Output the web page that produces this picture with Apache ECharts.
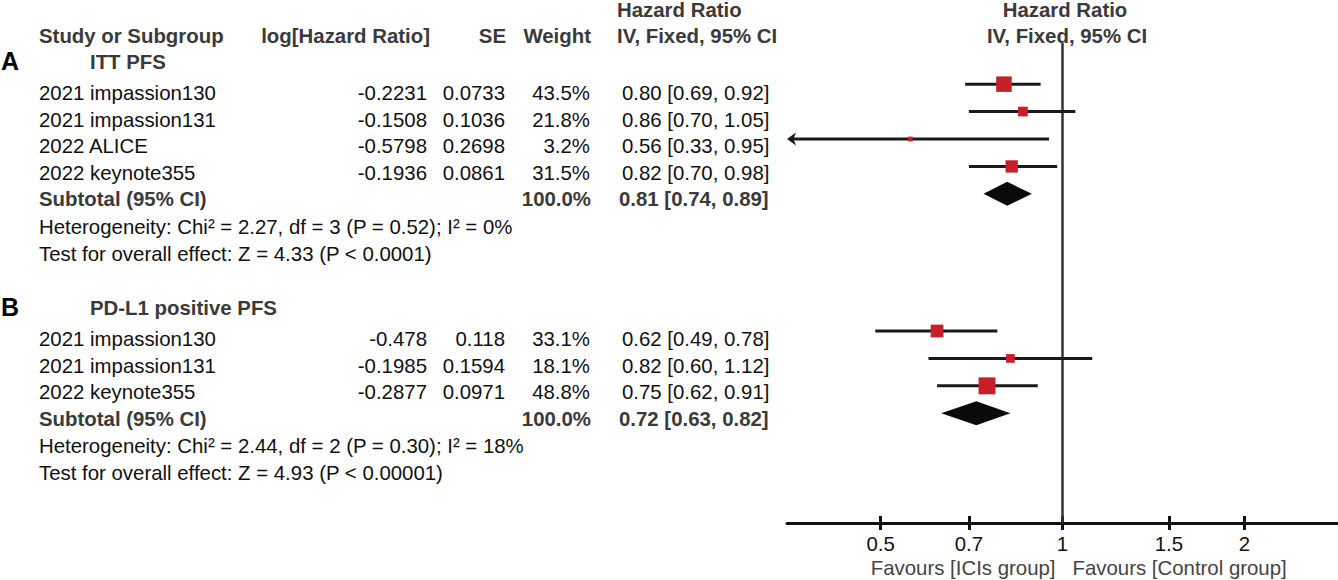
<!DOCTYPE html>
<html>
<head>
<meta charset="utf-8">
<script src="https://cdn.jsdelivr.net/npm/echarts@6/dist/echarts.min.js"></script>
<style>html,body{margin:0;padding:0;background:#fff}#c{width:1338px;height:580px}</style>
</head>
<body>
<div id="c"></div>
<script>
// ---- data ----
const studiesA = ['2021 impassion130', '2021 impassion131', '2022 ALICE', '2022 keynote355'];
const logHRA = [-0.2231, -0.1508, -0.5798, -0.1936];
const seA = [0.0733, 0.1036, 0.2698, 0.0861];
const weightA = [43.5, 21.8, 3.2, 31.5];
const hrA = [0.80, 0.86, 0.56, 0.82];
const lowA = [0.69, 0.70, 0.33, 0.70];
const highA = [0.92, 1.05, 0.95, 0.98];
const subtotalA = [0.81, 0.74, 0.89];
const subtotalWeightA = 100.0;
const heteroA = 'Heterogeneity: Chi² = 2.27, df = 3 (P = 0.52); I² = 0%';
const overallA = 'Test for overall effect: Z = 4.33 (P < 0.0001)';
const titleA = 'ITT PFS';

const studiesB = ['2021 impassion130', '2021 impassion131', '2022 keynote355'];
const logHRB = [-0.478, -0.1985, -0.2877];
const seB = [0.118, 0.1594, 0.0971];
const weightB = [33.1, 18.1, 48.8];
const hrB = [0.62, 0.82, 0.75];
const lowB = [0.49, 0.60, 0.62];
const highB = [0.78, 1.12, 0.91];
const subtotalB = [0.72, 0.63, 0.82];
const subtotalWeightB = 100.0;
const heteroB = 'Heterogeneity: Chi² = 2.44, df = 2 (P = 0.30); I² = 18%';
const overallB = 'Test for overall effect: Z = 4.93 (P < 0.00001)';
const titleB = 'PD-L1 positive PFS';

const tickValues = [0.5, 0.7, 1, 1.5, 2];
const axisRangeHR = [0.35, 1 / 0.35];
const headerCols = ['Study or Subgroup', 'log[Hazard Ratio]', 'SE', 'Weight'];
const headerHR = ['Hazard Ratio', 'IV, Fixed, 95% CI'];
const favourLabels = ['Favours [ICIs group]', 'Favours [Control group]'];

// ---- layout ----
const FONT = 'Arial, "Liberation Sans", Helvetica, sans-serif';
const FS = 20.4;
const LN_MIN = Math.log(axisRangeHR[0]);
const LN_MAX = Math.log(axisRangeHR[1]);
const rowStartA = 0, rowStartB = 9;
const ln = Math.log;

const ciData = [], sqData = [], diaData = [];
function addGroup(logHR, low, high, weight, sub, start) {
  logHR.forEach((v, i) => {
    ciData.push([ln(low[i]), ln(high[i]), start + i]);
    sqData.push([v, start + i, weight[i]]);
  });
  diaData.push([ln(sub[0]), ln(sub[1]), ln(sub[2]), start + logHR.length]);
}
addGroup(logHRA, lowA, highA, weightA, subtotalA, rowStartA);
addGroup(logHRB, lowB, highB, weightB, subtotalB, rowStartB);

// ---- table text ----
const g = [];
function txt(text, x, y, o) {
  o = o || {};
  g.push({
    type: 'text', x: x, y: y, silent: true,
    style: {
      text: text, fill: o.fill || '#111',
      font: (o.bold ? 'bold ' : '') + (o.size || FS) + 'px ' + FONT,
      align: o.align || 'left', verticalAlign: 'middle'
    }
  });
}
const HDR = '#3a3a3a';
txt(headerHR[0], 617, 10, {bold: true, fill: HDR});
txt(headerCols[0], 39, 35.5, {bold: true, fill: HDR});
txt(headerCols[1], 430, 35.5, {bold: true, fill: HDR, align: 'right'});
txt(headerCols[2], 506, 35.5, {bold: true, fill: HDR, align: 'right'});
txt(headerCols[3], 591, 35.5, {bold: true, fill: HDR, align: 'right'});
txt(headerHR[1], 617, 35.5, {bold: true, fill: HDR});
txt(headerHR[0], 1065, 10, {bold: true, fill: HDR, align: 'center'});
txt(headerHR[1], 1067, 35.5, {bold: true, fill: HDR, align: 'center'});

function ci(h, l, u) { return h.toFixed(2) + ' [' + l.toFixed(2) + ', ' + u.toFixed(2) + ']'; }
function tableGroup(letter, title, names, logHR, se, weight, hr, low, high, sub, subW, het, ov, y0) {
  txt(letter, 1, y0 - 1, {bold: true, size: 25, fill: '#000'});
  txt(title, 90, y0, {bold: true, fill: HDR});
  const step = 26.7;
  names.forEach((n, i) => {
    const y = y0 + 31 + i * step;
    txt(n, 39, y);
    txt(String(logHR[i]), 427, y, {align: 'right'});
    txt(String(se[i]), 505, y, {align: 'right'});
    txt(weight[i].toFixed(1) + '%', 590, y, {align: 'right'});
    txt(ci(hr[i], low[i], high[i]), 622, y);
  });
  const ys = y0 + 31 + names.length * step - 0.5;
  txt('Subtotal (95% CI)', 39, ys, {bold: true, fill: HDR});
  txt(subW.toFixed(1) + '%', 591, ys, {bold: true, fill: HDR, align: 'right'});
  txt(ci(sub[0], sub[1], sub[2]), 619, ys, {bold: true, fill: HDR});
  txt(het, 39, ys + 27.5);
  txt(ov, 39, ys + 54.5);
}
tableGroup('A', titleA, studiesA, logHRA, seA, weightA, hrA, lowA, highA, subtotalA, subtotalWeightA, heteroA, overallA, 62);
tableGroup('B', titleB, studiesB, logHRB, seB, weightB, hrB, lowB, highB, subtotalB, subtotalWeightB, heteroB, overallB, 308);

// ---- chart ----
const chart = echarts.init(document.getElementById('c'), null, {renderer: 'svg'});
const tickLn = tickValues.map(v => Math.log(v));
const LINE = '#1a1a1a';
const xBase = {
  type: 'value', min: LN_MIN, max: LN_MAX, position: 'bottom',
  splitLine: {show: false}
};
chart.setOption({
  animation: false,
  grid: {left: 787, right: 0, top: 43, bottom: 57},
  xAxis: [
    Object.assign({}, xBase, {
      axisLine: {show: true, onZero: false, lineStyle: {color: '#111', width: 3}},
      axisTick: {show: true, customValues: tickLn, length: 7, lineStyle: {color: '#111', width: 3}},
      axisLabel: {
        show: true, customValues: tickLn, margin: 11, color: '#111', fontSize: FS, fontFamily: FONT,
        formatter: v => String(Math.round(Math.exp(v) * 10) / 10)
      }
    }),
    Object.assign({}, xBase, {
      axisLine: {show: false, onZero: false},
      axisTick: {show: true, inside: true, customValues: tickLn, length: 7, lineStyle: {color: '#111', width: 3}},
      axisLabel: {show: false}
    })
  ],
  yAxis: {type: 'value', inverse: true, min: -1.5, max: 16, show: false},
  series: [
    {
      type: 'custom', name: 'ci', data: ciData, z: 2,
      encode: {x: [0, 1], y: 2},
      renderItem: function (params, api) {
        const row = api.value(2);
        const p1 = api.coord([api.value(0), row]);
        const p2 = api.coord([api.value(1), row]);
        const pMin = api.coord([LN_MIN, row]);
        const y = p1[1];
        const arrow = p1[0] < pMin[0];
        const x1 = arrow ? pMin[0] : p1[0];
        const children = [{
          type: 'line',
          shape: {x1: arrow ? x1 + 5 : x1, y1: y, x2: p2[0], y2: y},
          style: {stroke: LINE, lineWidth: 3}
        }];
        if (arrow) {
          children.push({
            type: 'polygon',
            shape: {points: [[x1, y], [x1 + 9, y - 6.5], [x1 + 6.5, y], [x1 + 9, y + 6.5]]},
            style: {fill: LINE}
          });
        }
        return {type: 'group', children: children};
      }
    },
    {
      type: 'scatter', name: 'hr', data: sqData, z: 4,
      symbol: 'rect',
      symbolSize: v => 3.9 + 0.267 * v[2],
      itemStyle: {color: '#c8202a', opacity: 1},
      markLine: {
        silent: true, symbol: ['none', 'none'], z: 1,
        label: {show: false},
        lineStyle: {color: '#333', width: 2.5, type: 'solid'},
        data: [{xAxis: 0}]
      }
    },
    {
      type: 'custom', name: 'subtotal', data: diaData, z: 3,
      encode: {x: [0, 1, 2], y: 3},
      renderItem: function (params, api) {
        const row = api.value(3);
        const c = api.coord([api.value(0), row]);
        const l = api.coord([api.value(1), row]);
        const h = api.coord([api.value(2), row]);
        return {
          type: 'polygon',
          shape: {points: [[l[0], c[1]], [c[0], c[1] - 12], [h[0], c[1]], [c[0], c[1] + 12]]},
          style: {fill: '#0a0a0a'}
        };
      }
    }
  ],
  graphic: g
});

// Favours labels, placed either side of the line of no effect
const x1px = chart.convertToPixel({xAxisIndex: 0}, 0);
chart.setOption({
  graphic: g.concat([
    {type: 'text', x: x1px - 7, y: 568, silent: true,
     style: {text: favourLabels[0], fill: '#444', font: FS + 'px ' + FONT, align: 'right', verticalAlign: 'middle'}},
    {type: 'text', x: x1px + 10, y: 568, silent: true,
     style: {text: favourLabels[1], fill: '#444', font: FS + 'px ' + FONT, align: 'left', verticalAlign: 'middle'}}
  ])
});
</script>
</body>
</html>
